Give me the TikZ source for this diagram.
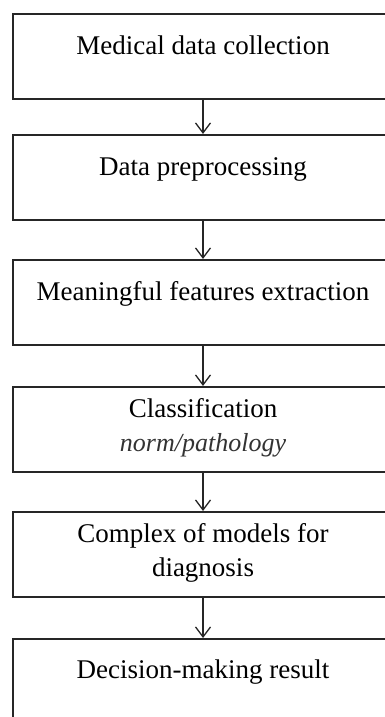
\documentclass[tikz,border=0pt]{standalone}
\usepackage{fontspec}
\setmainfont{Liberation Serif}
\usepackage{xcolor}
\usepackage{tikz}
\usetikzlibrary{arrows.meta,positioning}

% box text: first baseline pushed down by a strut, box height fixed
\newcommand{\boxtext}[2]{\parbox[t][85pt][t]{380pt}{\centering\rule{0pt}{#1}#2}}

\begin{document}
\begin{tikzpicture}[x=1pt,y=1pt,
  >={Straight Barb[length=10pt,width=15pt]},
  stepbox/.style={draw=black!85,line width=1.6pt,inner sep=0pt,anchor=north,
    font=\fontsize{27}{34}\selectfont},
  flow/.style={->,line width=1.3pt,black!85}]
\useasboundingbox (0,0) rectangle (385,717);
\clip (0,0) rectangle (385,717);
\node[stepbox] (collect) at (203,704) {\boxtext{41pt}{Medical data collection}};
\node[stepbox] (prep) at (203,583) {\boxtext{41pt}{Data preprocessing}};
\node[stepbox] (feat) at (203,458) {\boxtext{41pt}{Meaningful features extraction}};
\node[stepbox] (cls) at (203,331) {\boxtext{31pt}{Classification\\
  {\fontsize{26}{34}\selectfont\itshape\color{black!80}norm/pathology}}};
\node[stepbox] (models) at (203,206) {\boxtext{31pt}{Complex of models for\\ diagnosis}};
\node[stepbox] (result) at (203,79) {\boxtext{40pt}{Decision-making result}};
\draw[flow] (collect)--(prep);
\draw[flow] (prep)--(feat);
\draw[flow] (feat)--(cls);
\draw[flow] (cls)--(models);
\draw[flow] (models)--(result);
\end{tikzpicture}
\end{document}
